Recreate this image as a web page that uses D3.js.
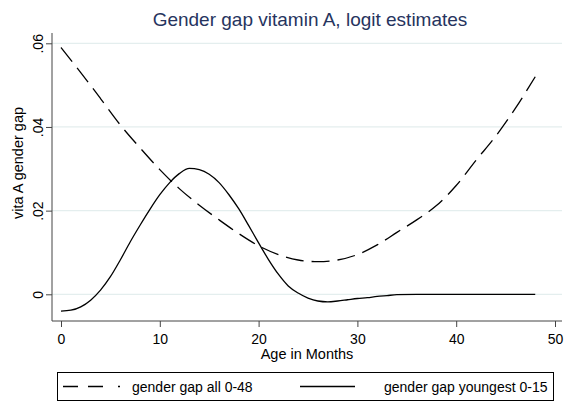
<!DOCTYPE html>
<html>
<head>
<meta charset="utf-8">
<script src="https://cdn.jsdelivr.net/npm/d3@7"></script>
<style>
  body { margin: 0; background: #fff; }
  text { font-family: "Liberation Sans", Arial, sans-serif; }
</style>
</head>
<body>
<script>
// data
var monthsAll = [0, 2, 4, 6, 8, 10, 12, 14, 16, 18, 20, 22, 24, 26, 28, 30, 32, 34, 36, 38, 40, 42, 44, 46, 48];
var gapAll = [.059, .053, .0468, .0405, .035, .0298, .0252, .0213, .0178, .0145, .0116, .0095, .0082, .0078, .0082, .0095, .0118, .0148, .0178, .0212, .026, .032, .0378, .0445, .052];

var monthsYoung = [0, 1, 2, 3, 4, 5, 6, 7, 8, 9, 10, 11, 12, 13, 14, 15, 16, 17, 18, 19, 20, 21, 22, 23, 24, 25, 26, 27, 28, 29, 30, 31, 32, 33, 34, 36, 38, 40, 42, 44, 46, 48];
var gapYoung = [-.004, -.0038, -.003, -.0014, .001, .0042, .0082, .0125, .0165, .0203, .0238, .0267, .0289, .0301, .0298, .0287, .0267, .0238, .0204, .0164, .0123, .0083, .0048, .002, .0003, -.0009, -.0016, -.0018, -.0016, -.0013, -.001, -.0008, -.0005, -.0003, -.0001, 0, 0, 0, 0, 0, 0, 0];

var xTicks = [0, 10, 20, 30, 40, 50];
var yTicks = [0, .02, .04, .06];
var yTickLabels = ["0", ".02", ".04", ".06"];
var legendLabels = ["gender gap all 0-48", "gender gap youngest 0-15"];

var W = 581, H = 404;
var svg = d3.select("body").append("svg")
  .attr("width", W)
  .attr("height", H);

var plotL = 52, plotR = 562, plotT = 33, plotB = 321;

var x = d3.scaleLinear().domain([0, 50]).range([61, 555]);
var y = d3.scaleLinear().domain([0, .06]).range([294.3, 43.3]);

// title
svg.append("text")
  .attr("x", 310).attr("y", 26)
  .attr("text-anchor", "middle")
  .style("font-size", "19px")
  .style("fill", "#26345e")
  .text("Gender gap vitamin A, logit estimates");

// grid lines
svg.append("g").selectAll("line")
  .data(yTicks)
  .enter().append("line")
  .attr("x1", plotL).attr("x2", plotR)
  .attr("y1", d => y(d)).attr("y2", d => y(d))
  .style("stroke", "#e4eeee")
  .style("stroke-width", 1.2);

// y axis
var y_axis = d3.axisLeft(y)
  .tickValues(yTicks)
  .tickSize(6)
  .tickFormat((d, i) => yTickLabels[i]);

var gy = svg.append("g")
  .attr("transform", "translate(" + plotL + ",0)")
  .call(y_axis);
gy.select(".domain").remove();
gy.selectAll(".tick line").style("stroke", "#444");
gy.selectAll(".tick text")
  .attr("x", 0).attr("y", 0).attr("dy", 0)
  .attr("transform", "translate(-9,0) rotate(-90)")
  .attr("text-anchor", "middle")
  .style("font-size", "14px")
  .style("fill", "#000")
  .style("font-family", "Liberation Sans, Arial, sans-serif");
gy.append("line")
  .attr("x1", 0).attr("x2", 0)
  .attr("y1", plotT).attr("y2", plotB)
  .style("stroke", "#444");

// x axis
var x_axis = d3.axisBottom(x)
  .tickValues(xTicks)
  .tickSize(6)
  .tickPadding(7);

var gx = svg.append("g")
  .attr("transform", "translate(0," + plotB + ")")
  .call(x_axis);
gx.select(".domain").remove();
gx.selectAll(".tick line").style("stroke", "#444");
gx.selectAll(".tick text")
  .style("font-size", "14px")
  .style("fill", "#000")
  .style("font-family", "Liberation Sans, Arial, sans-serif");
gx.append("line")
  .attr("x1", plotL).attr("x2", plotR)
  .attr("y1", 0).attr("y2", 0)
  .style("stroke", "#444");

// axis titles
svg.append("text")
  .attr("transform", "translate(23,163) rotate(-90)")
  .attr("text-anchor", "middle")
  .style("font-size", "14.5px")
  .text("vita A gender gap");

svg.append("text")
  .attr("x", 307).attr("y", 359)
  .attr("text-anchor", "middle")
  .style("font-size", "14.5px")
  .text("Age in Months");

// lines
var line = d3.line()
  .x(d => x(d[0]))
  .y(d => y(d[1]))
  .curve(d3.curveMonotoneX);

svg.append("path")
  .datum(d3.zip(monthsAll, gapAll))
  .attr("d", line)
  .style("fill", "none")
  .style("stroke", "#000")
  .style("stroke-width", 1.3)
  .style("stroke-dasharray", "18,8");

svg.append("path")
  .datum(d3.zip(monthsYoung, gapYoung))
  .attr("d", line)
  .style("fill", "none")
  .style("stroke", "#000")
  .style("stroke-width", 1.3);

// legend
var lg = svg.append("g");
lg.append("rect")
  .attr("x", 57.5).attr("y", 372.5)
  .attr("width", 496).attr("height", 28)
  .style("fill", "#fff")
  .style("stroke", "#000")
  .style("stroke-width", 1);

lg.append("line")
  .attr("x1", 63).attr("x2", 120).attr("y1", 386.5).attr("y2", 386.5)
  .style("stroke", "#000").style("stroke-width", 1.3)
  .style("stroke-dasharray", "15,10,15,15");
lg.append("line")
  .attr("x1", 300).attr("x2", 355).attr("y1", 386.5).attr("y2", 386.5)
  .style("stroke", "#000").style("stroke-width", 1.3);

lg.selectAll("text.leg")
  .data(legendLabels)
  .enter().append("text")
  .attr("class", "leg")
  .attr("x", (d, i) => i == 0 ? 132 : 384)
  .attr("y", 391.5)
  .style("font-size", "14px")
  .text(d => d);
</script>
</body>
</html>
